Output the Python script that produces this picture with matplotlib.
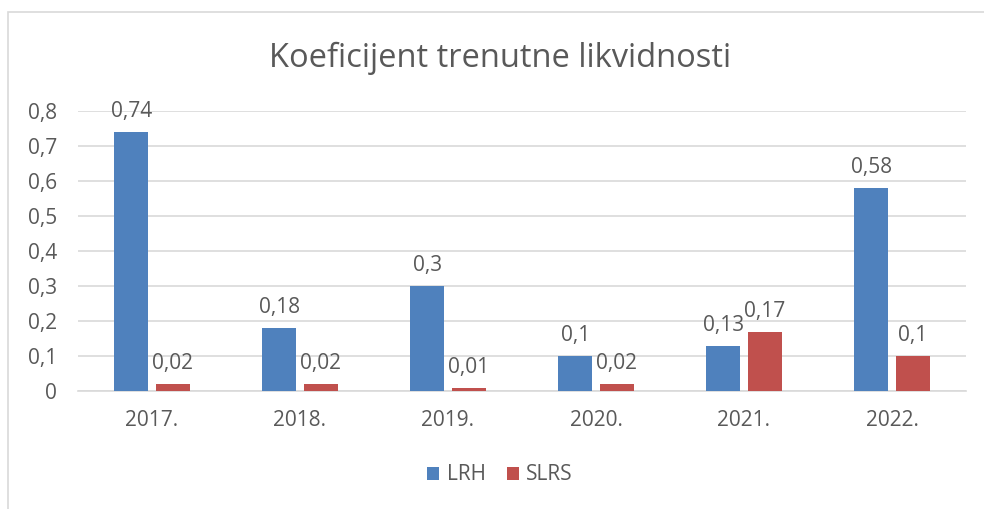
import matplotlib
matplotlib.use("Agg")
import matplotlib.pyplot as plt
from matplotlib.patches import Rectangle
import numpy as np

categories = ["2017.", "2018.", "2019.", "2020.", "2021.", "2022."]
lrh = [0.74, 0.18, 0.30, 0.10, 0.13, 0.58]
slrs = [0.02, 0.02, 0.01, 0.02, 0.17, 0.10]
lrh_labels = ["0,74", "0,18", "0,3", "0,1", "0,13", "0,58"]
slrs_labels = ["0,02", "0,02", "0,01", "0,02", "0,17", "0,1"]
yticks = [0, 0.1, 0.2, 0.3, 0.4, 0.5, 0.6, 0.7, 0.8]
ytick_labels = ["0", "0,1", "0,2", "0,3", "0,4", "0,5", "0,6", "0,7", "0,8"]

plt.rcParams['font.family'] = ['Open Sans', 'DejaVu Sans']
txt = "#595959"
blue = "#4f81bd"
red = "#c0504d"
fs = 15

W, H = 984, 509
fig = plt.figure(figsize=(W/100, H/100), dpi=100)
fig.patches.append(Rectangle((8/W, -0.1), 1.2, (H-12)/H + 0.1, transform=fig.transFigure,
                             fill=False, edgecolor="#d9d9d9", linewidth=1.2))

ax = fig.add_axes([78/W, 1 - 391/H, (966-78)/W, (391-111)/H])
x = np.arange(len(categories))
bw = 0.23
gap = 0.05
off = (bw + gap) / 2
b1 = ax.bar(x - off, lrh, bw, color=blue, label="LRH", zorder=3)
b2 = ax.bar(x + off, slrs, bw, color=red, label="SLRS", zorder=3)
for bars, labels in ((b1, lrh_labels), (b2, slrs_labels)):
    for rect, lab in zip(bars, labels):
        ax.annotate(lab, (rect.get_x() + rect.get_width()/2, rect.get_height()),
                    xytext=(0, 7), textcoords="offset points", ha="center", va="bottom",
                    fontsize=fs, color=txt)

ax.set_xlim(-0.5, len(categories) - 0.5)
ax.set_ylim(0, 0.8)
ax.set_yticks(yticks)
ax.set_yticklabels(ytick_labels)
ax.set_xticks(x)
ax.set_xticklabels(categories)
ax.tick_params(axis="both", length=0, labelsize=fs, labelcolor=txt)
ax.tick_params(axis="y", pad=15)
ax.tick_params(axis="x", pad=14)
ax.grid(axis="y", color="#d9d9d9", linewidth=1.2, zorder=0)
for s in ["top", "right", "left"]:
    ax.spines[s].set_visible(False)
ax.spines["bottom"].set_color("#d9d9d9")
ax.spines["bottom"].set_linewidth(1.2)

fig.text(500/W, 1 - 58/H, "Koeficijent trenutne likvidnosti", ha="center", va="center",
         fontsize=23.5, color=txt)
fig.legend(handles=[b1, b2], labels=["LRH", "SLRS"], loc="center", bbox_to_anchor=(500/W, 1 - 475/H),
           ncol=2, frameon=False, fontsize=fs, labelcolor=txt, handlelength=0.6, handleheight=0.6,
           handletextpad=0.35, columnspacing=1.0)

fig.savefig("out.png", dpi=100)
